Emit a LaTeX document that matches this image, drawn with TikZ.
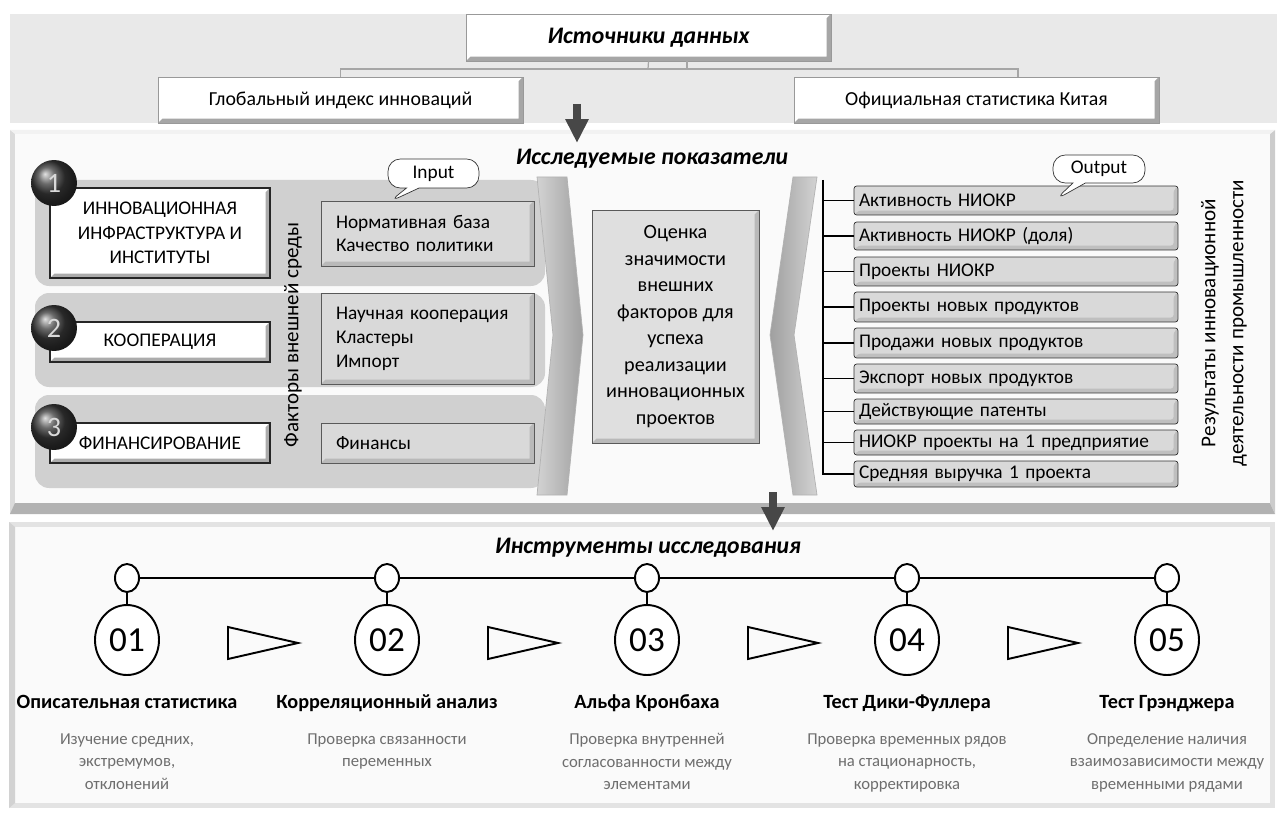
\documentclass[tikz,border=0pt]{standalone}
\usepackage{fontspec}
\setmainfont{Carlito}
\usetikzlibrary{arrows.meta,shapes.geometric,shapes.callouts}

\definecolor{bandgray}{HTML}{E9E9E9}
\definecolor{panelfill}{HTML}{FAFAFA}
\definecolor{rowgray}{HTML}{D0D0D0}
\definecolor{boxgray}{HTML}{D9D9D9}
\definecolor{descgray}{HTML}{6E6E6E}

\newcommand{\fsz}[2]{\fontsize{#1}{#2}\selectfont}

\tikzset{
  bevel/.style={path picture={
    \fill[#1] (path picture bounding box.south west)
      -- (path picture bounding box.south east)
      -- (path picture bounding box.north east)
      -- ([shift={(-2.5pt,-2.5pt)}]path picture bounding box.north east)
      -- ([shift={(-2.5pt,2.5pt)}]path picture bounding box.south east)
      -- ([shift={(2.5pt,2.5pt)}]path picture bounding box.south west) -- cycle;}},
  bevel/.default=gray!70
}

\begin{document}
\begin{tikzpicture}[x=0.02cm, y=-0.02cm,
  srcbox/.style={draw=gray!80, fill=white, bevel, inner sep=0pt, minimum width=7.3cm, font=\fsz{11.3}{13}},
  head/.style={font=\fsz{13.5}{16}\bfseries\itshape},
  link/.style={draw=gray!70, line width=0.7pt},
  bigarrow/.style={draw=black!72, line width=4.5pt, -{Triangle[width=0.44cm,length=0.48cm]}},
  catbox/.style={draw=black!85, line width=0.9pt, fill=white, bevel=gray!65, inner sep=0pt, minimum width=4.4cm, align=center, font=\fsz{11}{14}},
  sphere/.style={circle, ball color=gray!45!black, minimum size=0.92cm, inner sep=0pt, text=white!85!black, font=\fsz{16}{16}},
  inbox/.style={draw=gray!70!black, fill=boxgray, bevel=gray!55, inner xsep=0.3cm, inner ysep=0pt, text width=3.66cm, align=left, font=\fsz{11}{13.6}},
  tag/.style={rectangle callout, draw=black!80, fill=white, rounded corners=7pt, inner sep=0pt, font=\fsz{11}{13}},
  outbox/.style={draw=black!80, fill=boxgray, rounded corners=1.5pt, bevel=gray!50, inner xsep=0.1cm, inner ysep=0pt, text width=6.28cm, align=left, font=\fsz{11}{13}},
  brack/.style={draw=black, line width=0.9pt},
  tl/.style={draw=black, line width=1.1pt},
  dot/.style={ellipse, draw=black, line width=1.1pt, fill=white, minimum width=0.48cm, minimum height=0.56cm, inner sep=0pt},
  stage/.style={ellipse, draw=black, line width=1.1pt, fill=white, minimum width=1.28cm, minimum height=1.4cm, inner sep=0pt, font=\fsz{20}{20}},
  ttl/.style={anchor=base, font=\fsz{11.5}{14}\bfseries},
  dsc/.style={anchor=north, text=descgray, align=center, inner sep=0pt, font=\fsz{9.5}{12.8}}
]
\useasboundingbox (0,0) rectangle (1277,814);

% sources
\fill[bandgray] (10,14) rectangle (1277,123);
\node[srcbox, minimum height=0.94cm, head] (src) at (648.5,37.5) {Источники данных};
\node[srcbox, minimum height=0.92cm] (glob) at (340.5,100) {Глобальный индекс инноваций};
\node[srcbox, minimum height=0.92cm] (off) at (976.5,100) {Официальная статистика Китая};
\coordinate (hub) at (648,69);
\coordinate (tick) at (687,61);
\coordinate (rdrop) at (1018,77);
\draw[link] (src.south) -- (hub);
\draw[link] (tick) -- (tick |- hub);
\draw[link] (glob.north) |- (hub) -| (rdrop);

% indicators panel
\fill[gray!28] (10,130) rectangle (1275,514);
\fill[panelfill] (15,134) rectangle (1270,503);
\fill[gray!60] (10,514) -- (1275,514) -- (1270,503) -- (15,503) -- cycle;
\fill[gray!40] (1275,130) -- (1275,514) -- (1270,503) -- (1270,134) -- cycle;
\fill[gray!10] (10,130) -- (1275,130) -- (1270,134) -- (15,134) -- cycle;
\coordinate (a1s) at (577,104);
\coordinate (a1e) at (577,143);
\draw[bigarrow] (a1s) -- (a1e);
\node[head] (ind) at (652,159) {Исследуемые показатели};

\fill[rowgray, rounded corners=8pt] (35,180) rectangle (545,286);
\fill[rowgray, rounded corners=8pt] (35,293) rectangle (545,387);
\fill[rowgray, rounded corners=8pt] (35,395) rectangle (545,488);

\node[catbox, minimum height=1.8cm] (c1) at (160,233) {ИННОВАЦИОННАЯ\\ИНФРАСТРУКТУРА И\\ИНСТИТУТЫ};
\node[catbox, minimum height=0.8cm] (c2) at (160,342) {КООПЕРАЦИЯ};
\node[catbox, minimum height=0.8cm] (c3) at (160,443) {ФИНАНСИРОВАНИЕ};
\node[sphere] (k1) at (54,183) {1};
\node[sphere] (k2) at (54,328) {2};
\node[sphere] (k3) at (54,427) {3};

\node[rotate=90, font=\fsz{12}{14}] (fac) at (293,335) {Факторы внешней среды};

\node[inbox, minimum height=1.3cm] (f1) at (427.5,233.5) {Нормативная база\\Качество политики};
\node[inbox, minimum height=1.82cm] (f2) at (427.5,338.5) {Научная кооперация\\Кластеры\\Импорт};
\node[inbox, minimum height=0.8cm] (f3) at (427.5,443) {Финансы};
\node[tag, minimum width=1.82cm, minimum height=0.58cm, callout absolute pointer={(389,202)}] (inp) at (433.5,173.5) {Input};

% chevrons
\shade[left color=gray!35, right color=gray!75, draw=gray!60] (537,177) -- (567,177) -- (583,335) -- (567,495) -- (537,495) -- (553,335) -- cycle;
\shade[left color=gray!75, right color=gray!35, draw=gray!60] (793,177) -- (817,177) -- (794,335) -- (817,495) -- (793,495) -- (770,335) -- cycle;

\node[draw=gray!70!black, fill=boxgray!85!white, bevel=gray!55, inner sep=0pt, minimum width=3.34cm, minimum height=4.66cm, align=center, font=\fsz{11.5}{15.1}] (ev) at (675.5,326.5) {Оценка\\значимости\\внешних\\факторов для\\успеха\\реализации\\инновационных\\проектов};

% outputs
\coordinate (brtop) at (823,180);
\foreach \y/\h/\t [count=\i] in {200.5/0.58/Активность НИОКР, 236/0.56/Активность НИОКР (доля), 271.5/0.58/Проекты НИОКР, 307/0.6/Проекты новых продуктов, 343/0.6/Продажи новых продуктов, 378.5/0.58/Экспорт новых продуктов, 411.5/0.5/Действующие патенты, 442.5/0.5/НИОКР проекты на 1 предприятие, 474/0.52/Средняя выручка 1 проекта}{
  \node[outbox, minimum height=\h cm] (o\i) at (1016,\y) {\t};
  \draw[brack] (o\i.west -| brtop) -- (o\i.west);
}
\draw[brack] (brtop) |- (o9.west);
\node[tag, minimum width=1.84cm, minimum height=0.56cm, callout absolute pointer={(1055,200)}] (outp) at (1099,169) {Output};
\node[rotate=90, align=center, font=\fsz{12}{16}] (res) at (1224,323) {Результаты инновационной\\деятельности промышленности};

% tools panel
\fill[gray!22] (9,522) rectangle (1275,808);
\fill[panelfill] (15,527) rectangle (1270,803);
\fill[gray!35] (9,522) -- (15,527) -- (15,803) -- (9,808) -- cycle;
\coordinate (a2s) at (773,492);
\coordinate (a2e) at (773,531);
\draw[bigarrow] (a2s) -- (a2e);
\node[head] (tool) at (648,548) {Инструменты исследования};

\foreach \i in {1,...,5}{
  \node[dot] (d\i) at ({127+260*(\i-1)},578) {};
  \node[stage] (n\i) at ({127+260*(\i-1)},640) {0\i};
  \draw[tl] (d\i) -- (n\i);
}
\foreach \i/\j in {1/2,2/3,3/4,4/5}
  \draw[tl] (d\i) -- (d\j);
\foreach \i in {0,...,3}
  \draw[tl] ({228+260*\i},627) -- ++(70,16) -- ++(-70,16) -- cycle;

\node[ttl] (t1) at (127,708) {Описательная статистика};
\node[ttl] (t2) at (387,708) {Корреляционный анализ};
\node[ttl] (t3) at (647,708) {Альфа Кронбаха};
\node[ttl] (t4) at (907,708) {Тест Дики-Фуллера};
\node[ttl] (t5) at (1167,708) {Тест Грэнджера};
\node[dsc] (s1) at (127,733) {Изучение средних,\\экстремумов,\\отклонений};
\node[dsc] (s2) at (387,733) {Проверка связанности\\переменных};
\node[dsc] (s3) at (647,733) {Проверка внутренней\\согласованности между\\элементами};
\node[dsc] (s4) at (907,733) {Проверка временных рядов\\на стационарность,\\корректировка};
\node[dsc] (s5) at (1167,733) {Определение наличия\\взаимозависимости между\\временными рядами};
\end{tikzpicture}
\end{document}
